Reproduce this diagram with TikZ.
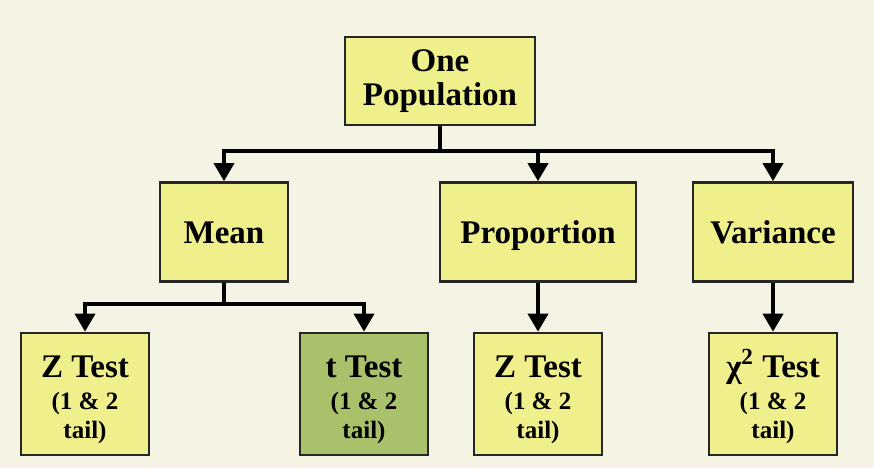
\documentclass[tikz,border=0pt]{standalone}
\usepackage{fontspec}
\setmainfont{Liberation Serif}
\usetikzlibrary{arrows.meta}

\begin{document}
\begin{tikzpicture}[x=0.5pt,y=-0.5pt, every node/.style={font=\fontsize{16.5}{17}\selectfont\bfseries}]
  \definecolor{hpBack}{HTML}{F5F3E3}
  \definecolor{hpYellow}{HTML}{EFEF8C}
  \definecolor{hpGreen}{HTML}{A9C16B}
  \definecolor{hpEdge}{HTML}{262626}
  \tikzset{
    box/.style={draw=hpEdge, line width=1.35pt, fill=hpYellow, align=center, inner sep=0pt},
    param/.style={box, minimum height=49.5pt, text height=15pt, text depth=3.5pt},
    conn/.style={-{Triangle[width=10pt,length=9pt]}, line width=1.9pt, black}
  }
  \fill[hpBack] (0,0) rectangle (874,468);
  \node[box, minimum width=95pt, minimum height=44pt] (pop) at (440,81) {One\\[0pt]Population};
  \node[param, minimum width=64pt] (mean) at (224,232) {Mean};
  \node[param, minimum width=98pt] (prop) at (538,232) {Proportion};
  \node[param, minimum width=80pt] (var) at (773,232) {Variance};
  \foreach \n/\x/\col/\head in {zm/85/hpYellow/{Z Test}, tm/364/hpGreen/{t Test},
                                 zp/538/hpYellow/{Z Test}, cv/773/hpYellow/{χ\textsuperscript{2} Test}}{
    \node[box, fill=\col, minimum width=64pt, minimum height=61pt] (\n) at (\x,394)
      {\rule{0pt}{16.5pt}\head\\[-1pt]{\fontsize{12.5}{14.5}\selectfont (1 \& 2}\\[-2.5pt]{\fontsize{12.5}{14.5}\selectfont tail)}};
  }
  % one population to the three parameters
  \draw[conn] (pop.south) -- ++(0,25) -| (mean.north);
  \draw[conn] (pop.south) -- ++(0,25) -| (prop.north);
  \draw[conn] (pop.south) -- ++(0,25) -| (var.north);
  % parameters to tests
  \draw[conn] (mean.south) -- ++(0,21) -| (zm.north);
  \draw[conn] (mean.south) -- ++(0,21) -| (tm.north);
  \draw[conn] (prop.south) -- (zp.north);
  \draw[conn] (var.south) -- (cv.north);
\end{tikzpicture}
\end{document}
